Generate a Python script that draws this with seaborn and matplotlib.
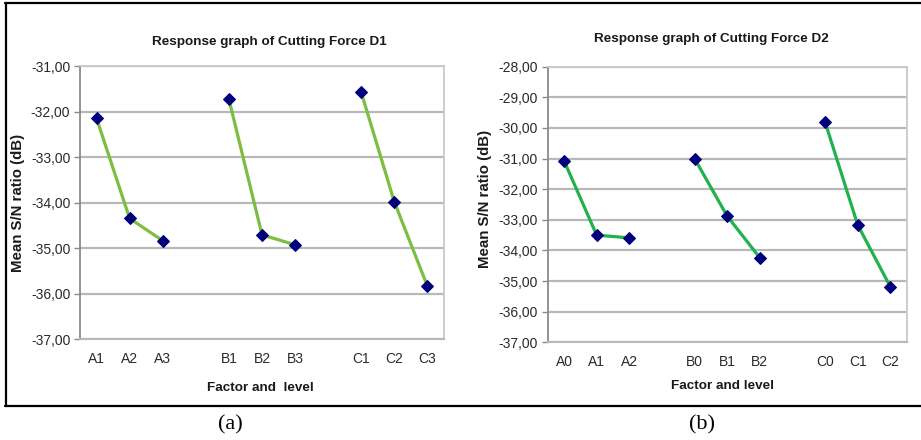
import matplotlib
matplotlib.use("Agg")
import matplotlib.pyplot as plt
import seaborn as sns
import pandas as pd
import numpy as np
from matplotlib.ticker import FuncFormatter, MultipleLocator
from matplotlib.lines import Line2D

# ---------------- data ----------------
factors = ["A", "B", "C"]
levels_d1 = [["A1", "A2", "A3"], ["B1", "B2", "B3"], ["C1", "C2", "C3"]]
values_d1 = [[-32.15, -34.35, -34.84], [-31.73, -34.71, -34.93], [-31.58, -33.99, -35.84]]
levels_d2 = [["A0", "A1", "A2"], ["B0", "B1", "B2"], ["C0", "C1", "C2"]]
values_d2 = [[-31.07, -33.50, -33.59], [-31.00, -32.88, -34.24], [-29.81, -33.17, -35.19]]
ylim_d1 = (-37, -31)
ylim_d2 = (-37, -28)
title_d1 = "Response graph of Cutting Force D1"
title_d2 = "Response graph of Cutting Force D2"
xlabel_d1 = "Factor and  level"
xlabel_d2 = "Factor and level"
ylabel = "Mean S/N ratio (dB)"

sns.set_theme(style="white")
plt.rcParams["font.family"] = ["Liberation Sans", "DejaVu Sans"]

W, H = 921, 440
fig = plt.figure(figsize=(W / 100, H / 100), dpi=100)
fig.patch.set_facecolor("white")

navy = "#00007a"
tick_col = "#2a2a2a"


def build_df(levels, values):
    rows = []
    for g, (labs, vals) in enumerate(zip(levels, values)):
        for i, (lab, v) in enumerate(zip(labs, vals)):
            rows.append({"factor": factors[g], "label": lab, "pos": g * 4 + i, "val": v})
    return pd.DataFrame(rows)


def panel(rect, levels, values, ylim, color, title, xlabel, title_xy, ylab_xy, xlab_xy, xpad):
    ax = fig.add_axes(rect)
    df = build_df(levels, values)
    sns.lineplot(data=df, x="pos", y="val", units="factor", estimator=None,
                 color=color, lw=2.3, marker="D", markersize=6.2,
                 markerfacecolor=navy, markeredgecolor=navy, ax=ax, zorder=3)
    ax.set_xlim(-0.5, 10.5)
    ax.set_ylim(*ylim)
    ax.yaxis.set_major_locator(MultipleLocator(1))
    ax.yaxis.set_major_formatter(FuncFormatter(lambda v, p: f"{v:.2f}".replace(".", ",")))
    ax.set_xticks(df["pos"])
    ax.set_xticklabels(df["label"])
    ax.grid(axis="y", color="#b8b8b8", lw=1.6)
    ax.grid(axis="x", visible=False)
    ax.set_axisbelow(True)
    for s in ["top", "right"]:
        ax.spines[s].set_color("#c8c8c8")
        ax.spines[s].set_linewidth(1.3)
    ax.spines["bottom"].set_color("#b8b8b8")
    ax.spines["bottom"].set_linewidth(1.5)
    ax.spines["left"].set_color("#8a8a8a")
    ax.spines["left"].set_linewidth(1.3)
    ax.tick_params(axis="y", left=True, length=4, width=1.0, color="#8a8a8a",
                   labelsize=10, labelcolor=tick_col, pad=3)
    ax.tick_params(axis="x", bottom=False, length=0, labelsize=10, labelcolor=tick_col, pad=xpad)
    ax.set_xlabel("")
    ax.set_ylabel("")
    fig.text(title_xy[0] / W, 1 - title_xy[1] / H, title, ha="center", va="center",
             fontsize=9.7, fontweight="bold", color="#1a1a1a")
    fig.text(ylab_xy[0] / W, 1 - ylab_xy[1] / H, ylabel, ha="center", va="center",
             rotation=90, fontsize=10.8, fontweight="bold", color="#1a1a1a")
    fig.text(xlab_xy[0] / W, 1 - xlab_xy[1] / H, xlabel, ha="center", va="center",
             fontsize=9.7, fontweight="bold", color="#1a1a1a")
    return ax


panel([80 / W, 1 - 339 / H, 364 / W, 273 / H], levels_d1, values_d1, ylim_d1, "#7cbd42",
      title_d1, xlabel_d1, (269.5, 41.7), (18, 203), (260.5, 387.7), 9.5)
panel([547.7 / W, 1 - 342.3 / H, 359 / W, 275.6 / H], levels_d2, values_d2, ylim_d2, "#22b14c",
      title_d2, xlabel_d2, (711, 39.3), (485, 199), (722, 385.7), 9)

# captions
fig.text(230 / W, 1 - 425 / H, "(a)", ha="center", va="center", fontsize=16,
         family=["Liberation Serif", "DejaVu Serif"], color="black")
fig.text(702 / W, 1 - 425 / H, "(b)", ha="center", va="center", fontsize=16,
         family=["Liberation Serif", "DejaVu Serif"], color="black")

# outer frame
def fl(x0, y0, x1, y1):
    fig.add_artist(Line2D([x0 / W, x1 / W], [1 - y0 / H, 1 - y1 / H], color="black", lw=1.6,
                          transform=fig.transFigure))

fl(5, 3.5, 921, 3.5)
fl(5, 406, 921, 406)
fl(5.5, 3.5, 5.5, 406)

fig.savefig("out.png", dpi=100, facecolor="white")
